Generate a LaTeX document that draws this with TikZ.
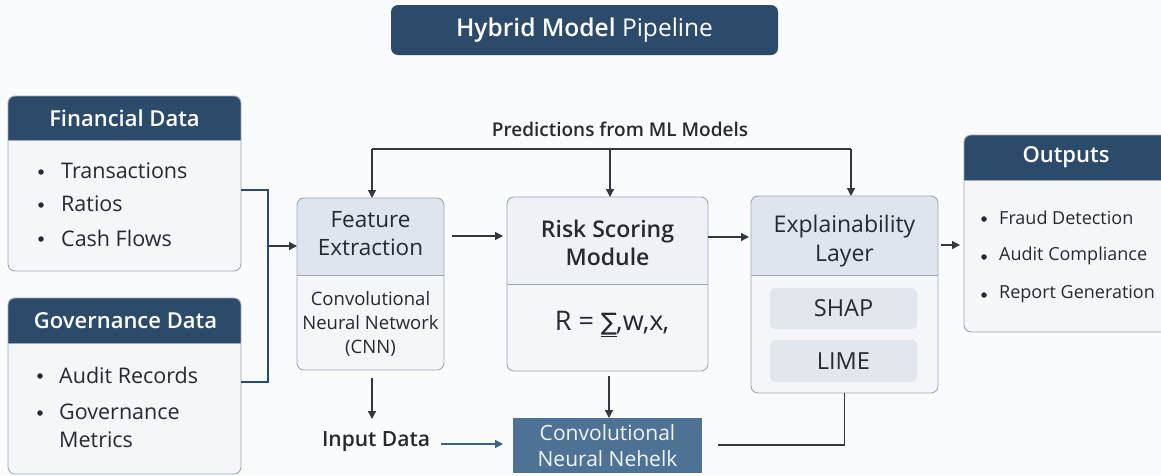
\documentclass[tikz,border=0pt]{standalone}
\usepackage{fontspec}
\IfFontExistsTF{Open Sans SemiBold}{%
  \setmainfont{Open Sans}[BoldFont={Open Sans SemiBold}]}{%
  \IfFontExistsTF{Open Sans Semibold}{%
    \setmainfont{Open Sans}[BoldFont={Open Sans Semibold}]}{%
    \setmainfont{Open Sans}}}
\newfontfamily\dejavu{DejaVu Sans}
\usetikzlibrary{arrows.meta,calc}
\definecolor{navy}{HTML}{2C4B6A}
\definecolor{panelbg}{HTML}{F4F6F9}
\definecolor{bordergray}{HTML}{9DA8B4}
\definecolor{lighthdr}{HTML}{DEE5EE}
\definecolor{riskhdr}{HTML}{EEF1F5}
\definecolor{chip}{HTML}{E2E7EE}
\definecolor{steel}{HTML}{4E7295}
\definecolor{txt}{HTML}{262A2F}
\definecolor{linec}{HTML}{333840}
\definecolor{bluel}{HTML}{3B6283}
\definecolor{pagebg}{HTML}{FAFBFC}
\tikzset{
  panel/.style={inner sep=0pt, outer sep=0pt, draw=none},
  hdrtext/.style={text=white, font=\bfseries\fontsize{22}{26}\selectfont},
  itemtext/.style={text=txt, anchor=west, font=\fontsize{21.5}{26}\selectfont, inner sep=0pt},
  bul/.style={circle, fill=txt, inner sep=0pt, minimum size=5.5pt},
  conn/.style={draw=linec, line width=1.3pt},
  arr/.style={conn, -{Triangle[length=8pt,width=8pt]}},
  bconn/.style={draw=navy, line width=1.3pt},
}
\newcommand{\hdrpanel}[3]{% name, header height, header colour
  \begin{scope}
    \clip[rounded corners=7pt] (#1.south west) rectangle (#1.north east);
    \fill[panelbg] (#1.south west) rectangle (#1.north east);
    \fill[#3] (#1.north west) rectangle ([yshift=-#2]#1.north east);
  \end{scope}
  \draw[bordergray, line width=0.9pt] ([yshift=-#2]#1.north west) -- ([yshift=-#2]#1.north east);
  \draw[bordergray, line width=0.9pt, rounded corners=7pt] (#1.south west) rectangle (#1.north east);
}
\begin{document}
\begin{tikzpicture}[x=1pt,y=-1pt]
\useasboundingbox (0,0) rectangle (1161,475);
\fill[pagebg] (0,0) rectangle (1161,475);

% title
\node[panel, fill=navy, rounded corners=7pt, minimum width=387pt, minimum height=50pt,
  text=white, font=\fontsize{24.5}{28}\selectfont] (title) at (584.5,30) {\textbf{Hybrid Model} Pipeline};

% Financial data
\node[panel, minimum width=233pt, minimum height=175pt] (fin) at (124.5,183.5) {};
\hdrpanel{fin}{44pt}{navy}
\node[hdrtext] (finh) at (124.5,118) {Financial Data};
\node[bul] (fb1) at (41,172) {};
\node[itemtext] (fi1) at (61,171) {Transactions};
\node[bul] (fb2) at (41,205) {};
\node[itemtext] (fi2) at (61,204) {Ratios};
\node[bul] (fb3) at (41,239) {};
\node[itemtext] (fi3) at (61,238) {Cash Flows};

% Governance data
\node[panel, minimum width=233pt, minimum height=176pt] (gov) at (124.5,386) {};
\hdrpanel{gov}{45pt}{navy}
\node[hdrtext] (govh) at (125.5,321) {Governance Data};
\node[bul] (gb1) at (40,376) {};
\node[itemtext] (gi1) at (59,375) {Audit Records};
\node[bul] (gb2) at (40,413) {};
\node[itemtext] (gi2) at (59,412) {Governance};
\node[itemtext] (gi3) at (59,440) {Metrics};

% Feature extraction
\node[panel, minimum width=147pt, minimum height=172pt] (feat) at (370.5,284) {};
\hdrpanel{feat}{77pt}{lighthdr}
\node[text=txt, align=center, font=\fontsize{22.5}{28}\selectfont] (feath) at (370.5,234) {Feature\\Extraction};
\node[text=txt, align=center, font=\fontsize{18.5}{24}\selectfont] (featb) at (370.5,324) {Convolutional\\Neural Network\\(CNN)};

% Risk scoring
\node[panel, minimum width=201pt, minimum height=174pt] (risk) at (607.5,284) {};
\hdrpanel{risk}{87pt}{riskhdr}
\node[text=txt, align=center, font=\bfseries\fontsize{23}{28}\selectfont] (riskh) at (607.5,243) {Risk Scoring\\Module};
\node[text=txt, font=\fontsize{27}{30}\selectfont] (formula) at (612,324) {R = \underline{\dejavu\fontsize{24}{28}\selectfont∑}\kern-1pt,w\kern-1pt,x\kern-1pt,};

% Explainability
\node[panel, minimum width=187pt, minimum height=197pt] (expl) at (844.5,294.5) {};
\hdrpanel{expl}{79pt}{lighthdr}
\node[text=txt, align=center, font=\fontsize{23}{29}\selectfont] (explh) at (844.5,241) {Explainability\\Layer};
\node[panel, fill=chip, rounded corners=5pt, minimum width=147pt, minimum height=41pt,
  text=txt, font=\fontsize{23.5}{26}\selectfont] (shap) at (843.5,308.5) {SHAP};
\node[panel, fill=chip, rounded corners=5pt, minimum width=147pt, minimum height=42pt,
  text=txt, font=\fontsize{23.5}{26}\selectfont] (lime) at (843.5,361) {LIME};

% Outputs
\node[panel, minimum width=204pt, minimum height=197pt] (out) at (1066,233.5) {};
\hdrpanel{out}{45pt}{navy}
\node[hdrtext] (outh) at (1066,157) {Outputs};
\node[bul] (ob1) at (984,219) {};
\node[itemtext, font=\fontsize{18}{22}\selectfont] (oi1) at (999,218) {Fraud Detection};
\node[bul] (ob2) at (984,257) {};
\node[itemtext, font=\fontsize{18}{22}\selectfont] (oi2) at (999,256) {Audit Compliance};
\node[bul] (ob3) at (984,295) {};
\node[itemtext, font=\fontsize{18}{22}\selectfont] (oi3) at (999,294) {Report Generation};

% CNN box
\node[panel, fill=steel, minimum width=189pt, minimum height=55pt, align=center,
  text=white!93!steel, font=\fontsize{21}{26}\selectfont] (cnn) at (607.5,445.5) {Convolutional\\Neural Nehelk};

% labels
\node[text=txt, font=\bfseries\fontsize{19}{22}\selectfont] (pred) at (620,129) {Predictions from ML Models};
\node[text=txt, font=\bfseries\fontsize{21}{24}\selectfont] (inp) at (376,442) {Input Data};

% bracket from data panels
\coordinate (b1) at (268,190);
\coordinate (b2) at (268,382);
\coordinate (bj) at (268,246);
\draw[bconn] (fin.east |- b1) -- (b1) -- (b2) -- (gov.east |- b2);
\draw[arr] (bj) -- (bj -| feat.west);

% top feedback line
\coordinate (pl) at (372,149);
\coordinate (pr) at (851,149);
\coordinate (pm) at (610,149);
\draw[conn] (pl) -- (pr);
\draw[arr] (pl) -- (pl |- feat.north);
\draw[arr] (pm) -- (pm |- risk.north);
\draw[arr] (pr) -- (pr |- expl.north);

% main chain
\coordinate (a1) at (452,236);
\draw[arr] (a1) -- ([xshift=-4pt]a1 -| risk.west);
\coordinate (a2) at (0,237);
\draw[arr] (risk.east |- a2) -- ([xshift=-2pt]expl.west |- a2);
\coordinate (a3) at (0,245);
\draw[arr] ([xshift=3pt]expl.east |- a3) -- ([xshift=-4pt]out.west |- a3);

% downward arrows
\coordinate (d1) at (372,378);
\coordinate (d1e) at (372,419);
\draw[arr] (d1) -- (d1e);
\coordinate (d2) at (609,376);
\draw[arr] (d2) -- (d2 |- cnn.north);
\coordinate (ia) at (441,444);
\draw[conn, draw=bluel, -{Triangle[length=8pt,width=8pt]}] (ia) -- ([xshift=-10pt]cnn.west |- ia);

% explainability back line
\coordinate (e1) at (718,445);
\draw[conn] (expl.south) |- (e1);
\end{tikzpicture}
\end{document}
